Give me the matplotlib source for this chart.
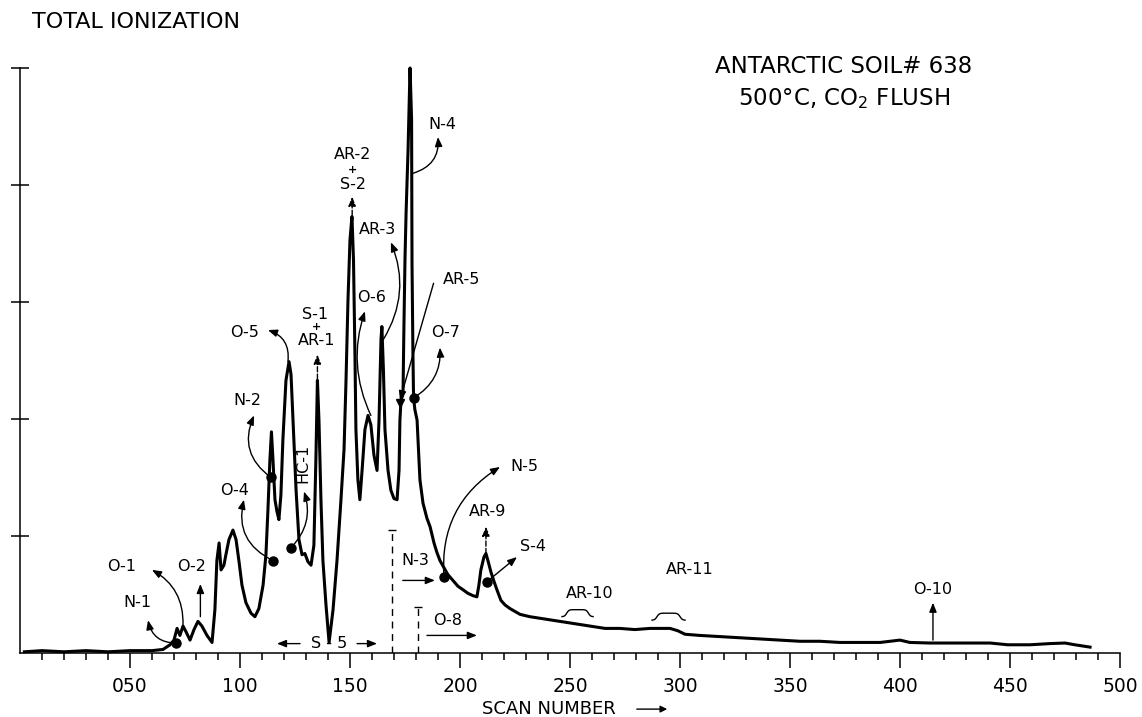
import numpy as np
import matplotlib
matplotlib.use("Agg")
import matplotlib.pyplot as plt

plt.rcParams["font.family"] = ["DejaVu Sans"]

# ---- trace (scan number vs total ionization, tick units) ----
scan = [2, 10, 20, 30, 40, 50, 60, 65, 68.2, 70, 71.4, 72.7, 74.1, 75.5, 77.3,
        79.1, 80.9, 82.7, 85, 87.3, 88.6, 89.5, 90.5, 91.4, 92.7, 93.6, 95,
        96.8, 98.2, 99.5, 100.9, 102.7, 105, 106.8, 108.6, 110.5, 111.8, 112.7,
        113.6, 114.3, 115, 115.9, 116.8, 117.7, 118.6, 119.5, 120.9, 122.3,
        123.2, 124.1, 125.5, 126.8, 128.2, 129.5, 130.9, 132.3, 133.6, 134.5,
        135.2, 135.9, 136.8, 137.7, 139.1, 140.5, 142.3, 144.1, 145.9, 147.3,
        148.2, 149.1, 150, 150.9, 151.6, 152.3, 152.7, 153.6, 154.5, 155.5,
        156.8, 158.2, 159.5, 160.9, 162.3, 163.2, 164.1, 164.5, 165.2, 165.9,
        167.3, 168.6, 170, 171.4, 172.3, 172.7, 173.2, 174.1, 174.5, 175,
        175.5, 176.4, 177.3, 178, 178.2, 178.6, 178.9, 179.5, 180.5, 181.8,
        183.2, 185, 186.4, 188.2, 189.5, 190.9, 192.7, 194.5, 196.8, 199.1,
        201.4, 203.6, 205.9, 207.7, 208.6, 209.5, 210.9, 211.8, 212.7, 214.1,
        215.5, 216.8, 218.6, 220.5, 222.7, 227.3, 231.8, 238.6, 245.5, 252.3,
        259.1, 265.9, 272.7, 279.5, 286.4, 290.9, 295.5, 299, 302.3, 309, 318,
        327, 336, 345, 354.5, 363.6, 372.7, 381.8, 391, 400, 404.5, 413.6, 427,
        441, 449, 459, 468, 475, 479.5, 486.4]
ion = [0.01, 0.02, 0.01, 0.02, 0.01, 0.02, 0.02, 0.03, 0.07, 0.11, 0.21, 0.15,
       0.23, 0.18, 0.11, 0.20, 0.27, 0.23, 0.15, 0.09, 0.37, 0.79, 0.94, 0.71,
       0.75, 0.84, 0.97, 1.05, 0.97, 0.79, 0.58, 0.43, 0.34, 0.31, 0.38, 0.58,
       0.84, 1.22, 1.65, 1.89, 1.65, 1.31, 1.21, 1.14, 1.35, 1.82, 2.33, 2.49,
       2.38, 1.99, 1.39, 0.97, 0.84, 0.85, 0.78, 0.75, 0.92, 1.65, 2.33, 1.99,
       1.31, 0.79, 0.41, 0.09, 0.37, 0.79, 1.31, 1.74, 2.33, 3.02, 3.53, 3.73,
       3.36, 2.50, 1.91, 1.48, 1.31, 1.56, 1.91, 2.03, 1.95, 1.69, 1.56, 1.99,
       2.68, 2.79, 2.42, 1.91, 1.56, 1.39, 1.32, 1.31, 1.56, 1.99, 2.16, 2.21,
       2.76, 3.36, 3.76, 4.30, 5.0, 4.56, 3.33, 2.59, 2.18, 2.08, 1.99, 1.48,
       1.28, 1.15, 1.08, 0.94, 0.86, 0.79, 0.73, 0.67, 0.62, 0.57, 0.54, 0.51,
       0.49, 0.48, 0.58, 0.71, 0.82, 0.85, 0.79, 0.69, 0.61, 0.54, 0.45, 0.41,
       0.38, 0.33, 0.31, 0.29, 0.27, 0.25, 0.23, 0.21, 0.21, 0.20, 0.21, 0.21,
       0.21, 0.19, 0.16, 0.15, 0.14, 0.13, 0.12, 0.11, 0.10, 0.10, 0.09, 0.09,
       0.09, 0.11, 0.09, 0.085, 0.085, 0.085, 0.07, 0.07, 0.08, 0.085, 0.07,
       0.05]

# dots marking identified peaks
dot_scan = [70.9, 115, 114.1, 123.2, 178.9, 192.7, 212.3]
dot_ion = [0.085, 0.79, 1.50, 0.90, 2.18, 0.65, 0.61]

# x axis ticks
tick_pos = [50, 100, 150, 200, 250, 300, 350, 400, 450, 500]
tick_lab = ["050", "100", "150", "200", "250", "300", "350", "400", "450", "500"]

# peak labels: text, x, y, rotation
labels = [
    ("N-1", 53.2, 0.43, 0), ("O-1", 46.4, 0.74, 0), ("O-2", 78.2, 0.74, 0),
    ("O-4", 97.7, 1.39, 0), ("N-2", 103.2, 2.16, 0), ("HC-1", 128.8, 1.62, 90),
    ("O-5", 102.3, 2.74, 0), ("S-1", 134.3, 2.89, 0), ("AR-1", 134.8, 2.67, 0),
    ("AR-2", 151.4, 4.26, 0), ("S-2", 151.2, 4.0, 0), ("AR-3", 162.7, 3.62, 0),
    ("O-6", 160, 3.04, 0), ("N-4", 191.8, 4.52, 0), ("AR-5", 200.5, 3.19, 0),
    ("O-7", 193.6, 2.74, 0), ("N-3", 179.5, 0.79, 0), ("N-5", 229.5, 1.59, 0),
    ("AR-9", 212.7, 1.21, 0), ("S-4", 233.2, 0.91, 0), ("O-8", 194.5, 0.28, 0),
    ("S - 5", 140.5, 0.08, 0), ("AR-10", 259.1, 0.51, 0),
    ("AR-11", 304.5, 0.71, 0), ("O-10", 415, 0.54, 0),
]
plus_signs = [(134.6, 2.79), (151.2, 4.13)]

# arrows: start (on trace), end (arrow head), curvature, dashed
arrows = [
    ((70.9, 0.085), (58.2, 0.28), -0.4, False),
    ((74.1, 0.24), (60.0, 0.71), 0.3, False),
    ((82.0, 0.31), (82.0, 0.59), 0.0, False),
    ((115.0, 0.79), (101.8, 1.31), -0.4, False),
    ((114.1, 1.50), (106.4, 2.03), -0.4, False),
    ((123.2, 0.90), (129.1, 1.38), 0.3, False),
    ((121.8, 2.49), (112.7, 2.76), 0.4, False),
    ((135.2, 2.34), (135.2, 2.55), 0.0, True),
    ((151.0, 3.74), (151.0, 3.90), 0.0, True),
    ((165.2, 2.68), (168.6, 3.51), 0.25, False),
    ((159.5, 2.03), (156.8, 2.92), -0.2, False),
    ((178.6, 4.10), (190.0, 4.41), 0.4, False),
    ((188.0, 3.16), (172.7, 2.16), 0.0, False),
    ((178.9, 2.18), (190.9, 2.61), 0.3, False),
    ((174.0, 0.62), (188.6, 0.62), 0.0, False),
    ((192.7, 0.65), (218.2, 1.59), -0.3, False),
    ((211.8, 0.85), (211.8, 1.08), 0.0, True),
    ((212.3, 0.61), (225.9, 0.82), 0.0, False),
    ((185.0, 0.15), (207.7, 0.15), 0.0, False),
    ((127.3, 0.08), (116.8, 0.08), 0.0, False),
    ((153.2, 0.08), (162.3, 0.08), 0.0, False),
    ((415.0, 0.11), (415.0, 0.43), 0.0, False),
]

# dashed markers for N-3 / O-8 scan positions
vline_x = [169, 180.9]
vline_top = [1.05, 0.39]

# braces over AR-10 and AR-11 regions
brace_x0 = [246.4, 287.3]
brace_x1 = [260.5, 302.3]
brace_y = [0.31, 0.28]


def draw_brace(ax, x0, x1, y, h):
    half = (x1 - x0) / 2
    t = np.linspace(0, half, 40)
    s = 1 / (1 + np.exp(-14 * (t / half - 0.3)))
    xs = np.concatenate([x0 + t, x1 - t[::-1]])
    ys = np.concatenate([s, s[::-1]])
    ax.plot(xs, y + h * ys, color="black", lw=1)


fig = plt.figure(figsize=(11.42, 7.17), dpi=100)
ax = fig.add_axes([0.0175, 0.0893, 0.9632, 0.8159])

ax.plot(scan, ion, color="black", lw=2.2, clip_on=False, solid_joinstyle="round")
ax.plot(dot_scan, dot_ion, "o", color="black", ms=6.5, zorder=4)

for txt, x, y, rot in labels:
    ax.text(x, y, txt, ha="center", va="center", fontsize=11.5, rotation=rot)
for x, y in plus_signs:
    ax.text(x, y, "+", ha="center", va="center", fontsize=8, fontweight="bold")

for (x0, y0), (x1, y1), rad, dashed in arrows:
    ax.annotate("", xy=(x1, y1), xytext=(x0, y0),
                arrowprops=dict(arrowstyle="-|>,head_length=0.55,head_width=0.22",
                                connectionstyle=f"arc3,rad={rad}",
                                color="black", lw=1.0,
                                linestyle="--" if dashed else "-",
                                shrinkA=0, shrinkB=0))

# AR-5 down-pointing marker
ax.plot([172.7], [2.14], "v", color="black", ms=6)

for x, top in zip(vline_x, vline_top):
    ax.plot([x, x], [0, top], color="black", lw=1, ls=(0, (5, 4)))
    ax.plot([x], [top], "_", color="black", ms=6, mew=1)

for x0, x1, y in zip(brace_x0, brace_x1, brace_y):
    draw_brace(ax, x0, x1, y, 0.06)

ax.set_xlim(0, 500)
ax.set_ylim(0, 5)
for side in ["top", "right"]:
    ax.spines[side].set_visible(False)
ax.spines["left"].set_linewidth(1.1)
ax.spines["bottom"].set_linewidth(1.1)

ax.set_xticks(tick_pos)
ax.set_xticklabels(tick_lab)
ax.set_xticks(range(10, 500, 10), minor=True)
ax.tick_params(axis="x", which="major", length=11, width=1.1, pad=6, labelsize=13.5)
ax.tick_params(axis="x", which="minor", length=5, width=1.1)
ax.set_yticks([1, 2, 3, 4, 5])
ax.set_yticklabels([])
ax.tick_params(axis="y", direction="inout", length=13, width=1.1)

# titles and axis label
fig.text(0.028, 0.969, "TOTAL IONIZATION", ha="left", va="center", fontsize=16)
fig.text(0.739, 0.907, "ANTARCTIC SOIL# 638", ha="center", va="center", fontsize=16.5)
fig.text(0.739, 0.862, "500°C, CO$_2$ FLUSH", ha="center", va="center", fontsize=16.5)
fig.text(0.481, 0.011, "SCAN NUMBER", ha="center", va="center", fontsize=13)
fig.add_artist(matplotlib.patches.FancyArrowPatch(
    (634 / 1142, 0.011), (670 / 1142, 0.011), transform=fig.transFigure,
    arrowstyle="-|>,head_length=4,head_width=2", color="black", lw=1))

fig.savefig("out.png", dpi=100, facecolor="white")
